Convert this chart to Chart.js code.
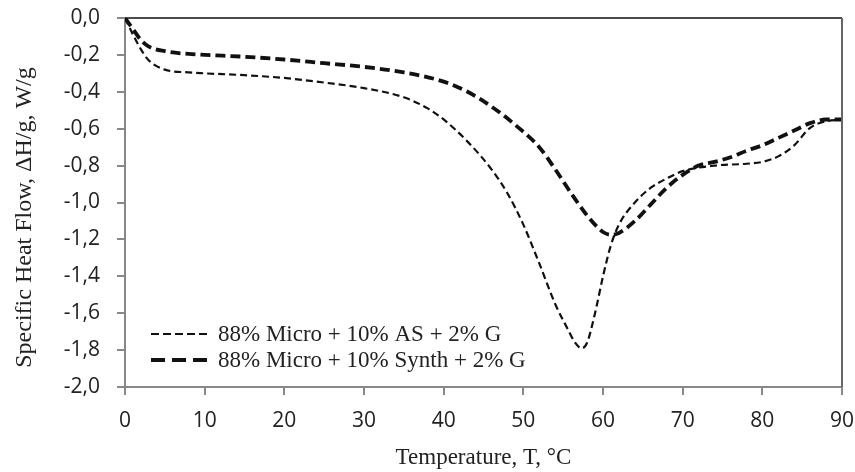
<!DOCTYPE html>
<html><head><meta charset="utf-8">
<script src="https://cdn.jsdelivr.net/npm/chart.js@4/dist/chart.umd.min.js"></script>
<style>html,body{margin:0;padding:0;background:#fff;} #wrap{width:855px;height:472px;position:relative;}</style>
</head><body><div id="wrap"><canvas id="c"></canvas></div>
<script>
const seriesLabels = ['88% Micro + 10% AS + 2% G', '88% Micro + 10% Synth + 2% G'];
const tempAS = [0, 1, 2, 3, 5, 8, 10, 15, 20, 25, 30, 35, 38, 40, 43, 46, 48, 50, 52, 54, 55.5, 56.5, 57.3, 58, 59, 60, 61, 62, 64, 66, 68, 70, 74, 78, 80, 82, 84, 86, 88, 90];
const heatAS = [0, -0.09, -0.17, -0.23, -0.28, -0.295, -0.30, -0.31, -0.325, -0.35, -0.38, -0.43, -0.49, -0.55, -0.67, -0.82, -0.95, -1.12, -1.33, -1.55, -1.68, -1.76, -1.79, -1.76, -1.6, -1.4, -1.23, -1.12, -1.00, -0.92, -0.87, -0.83, -0.80, -0.79, -0.78, -0.75, -0.69, -0.595, -0.56, -0.55];
const tempSynth = [0, 1, 2, 3, 5, 8, 10, 15, 20, 25, 30, 35, 40, 43, 46, 49, 52, 54, 56, 58, 60, 61, 62, 64, 66, 68, 70, 72, 74, 76, 78, 80, 82, 84, 86, 88, 90];
const heatSynth = [0, -0.06, -0.12, -0.155, -0.18, -0.195, -0.20, -0.21, -0.225, -0.245, -0.265, -0.295, -0.345, -0.40, -0.48, -0.58, -0.70, -0.82, -0.95, -1.07, -1.16, -1.175, -1.165, -1.10, -1.01, -0.92, -0.85, -0.80, -0.78, -0.755, -0.72, -0.69, -0.65, -0.61, -0.57, -0.55, -0.55];
const xTitle = 'Temperature, T, °C';
const yTitle = 'Specific Heat Flow, ΔH/g, W/g     ';
const xLimits = [0, 90];
const yLimits = [-2, 0];

const toPoints = (xs, ys) => xs.map((x, i) => ({x: x, y: ys[i]}));

const frame = {
  id: 'frame',
  afterDraw(chart) {
    const {ctx, chartArea: a} = chart;
    ctx.save();
    ctx.lineWidth = 1.5; ctx.strokeStyle = '#111';
    ctx.beginPath(); ctx.moveTo(a.left, a.top); ctx.lineTo(a.right, a.top); ctx.stroke();
    ctx.lineWidth = 2; ctx.strokeStyle = '#666';
    ctx.beginPath(); ctx.moveTo(a.right, a.top); ctx.lineTo(a.right, a.bottom); ctx.stroke();
    ctx.restore();
  }
};

const insideLegend = {
  id: 'insideLegend',
  afterDatasetsDraw(chart) {
    const {ctx, chartArea: a} = chart;
    const x0 = a.left + 26, len = 57, tx = x0 + len + 10;
    chart.data.datasets.forEach((ds, i) => {
      const y = a.bottom - 53 + i * 26;
      ctx.save();
      ctx.strokeStyle = ds.borderColor; ctx.lineWidth = ds.borderWidth;
      ctx.setLineDash(ds.legendDash);
      ctx.beginPath(); ctx.moveTo(x0, y); ctx.lineTo(x0 + len, y); ctx.stroke();
      ctx.setLineDash([]);
      ctx.fillStyle = '#222';
      ctx.font = '23px "Liberation Serif"';
      ctx.textBaseline = 'middle';
      ctx.fillText(ds.label, tx, y + 1);
      ctx.restore();
    });
  }
};

new Chart(document.getElementById('c'), {
  type: 'line',
  data: {
    datasets: [
      {label: seriesLabels[0], data: toPoints(tempAS, heatAS), borderColor: '#111', borderWidth: 2.2,
       borderDash: [7, 4], legendDash: [8, 4], pointRadius: 0, cubicInterpolationMode: 'monotone', fill: false},
      {label: seriesLabels[1], data: toPoints(tempSynth, heatSynth), borderColor: '#111', borderWidth: 3.8,
       borderDash: [10, 5], legendDash: [14, 7], pointRadius: 0, cubicInterpolationMode: 'monotone', fill: false}
    ]
  },
  options: {
    responsive: true, maintainAspectRatio: false, animation: false,
    layout: {padding: {top: 18, right: 13, left: 0, bottom: 0}},
    plugins: {legend: {display: false}, tooltip: {enabled: false}},
    scales: {
      x: {
        type: 'linear', min: xLimits[0], max: xLimits[1],
        afterFit(s) { s.height = 85; s.paddingLeft = 0; s.paddingRight = 0; },
        ticks: {stepSize: 10, color: '#222', font: {family: '"Open Sans"', size: 21}, padding: 13, maxRotation: 0},
        grid: {drawOnChartArea: false, drawTicks: true, tickLength: 8, color: '#888', lineWidth: 2},
        border: {color: '#888', width: 2},
        title: {display: true, text: xTitle, color: '#222', font: {family: '"Liberation Serif"', size: 23, lineHeight: 1.2}, padding: {top: 0, bottom: 0}}
      },
      y: {
        min: yLimits[0], max: yLimits[1],
        afterFit(s) { s.width = 125; s.paddingTop = 0; s.paddingBottom = 0; },
        ticks: {stepSize: 0.2, color: '#222', font: {family: '"Open Sans"', size: 21}, padding: 17,
          callback: v => (Math.abs(v) < 1e-9 ? 0 : v).toFixed(1).replace('.', ',')},
        grid: {drawOnChartArea: false, drawTicks: true, tickLength: 8, color: '#888', lineWidth: 2},
        border: {color: '#888', width: 2},
        title: {display: true, text: yTitle, color: '#222', font: {family: '"Liberation Serif"', size: 24, lineHeight: 1.2}, padding: {top: 10, bottom: 0}}
      }
    }
  },
  plugins: [frame, insideLegend]
});
</script></body></html>
